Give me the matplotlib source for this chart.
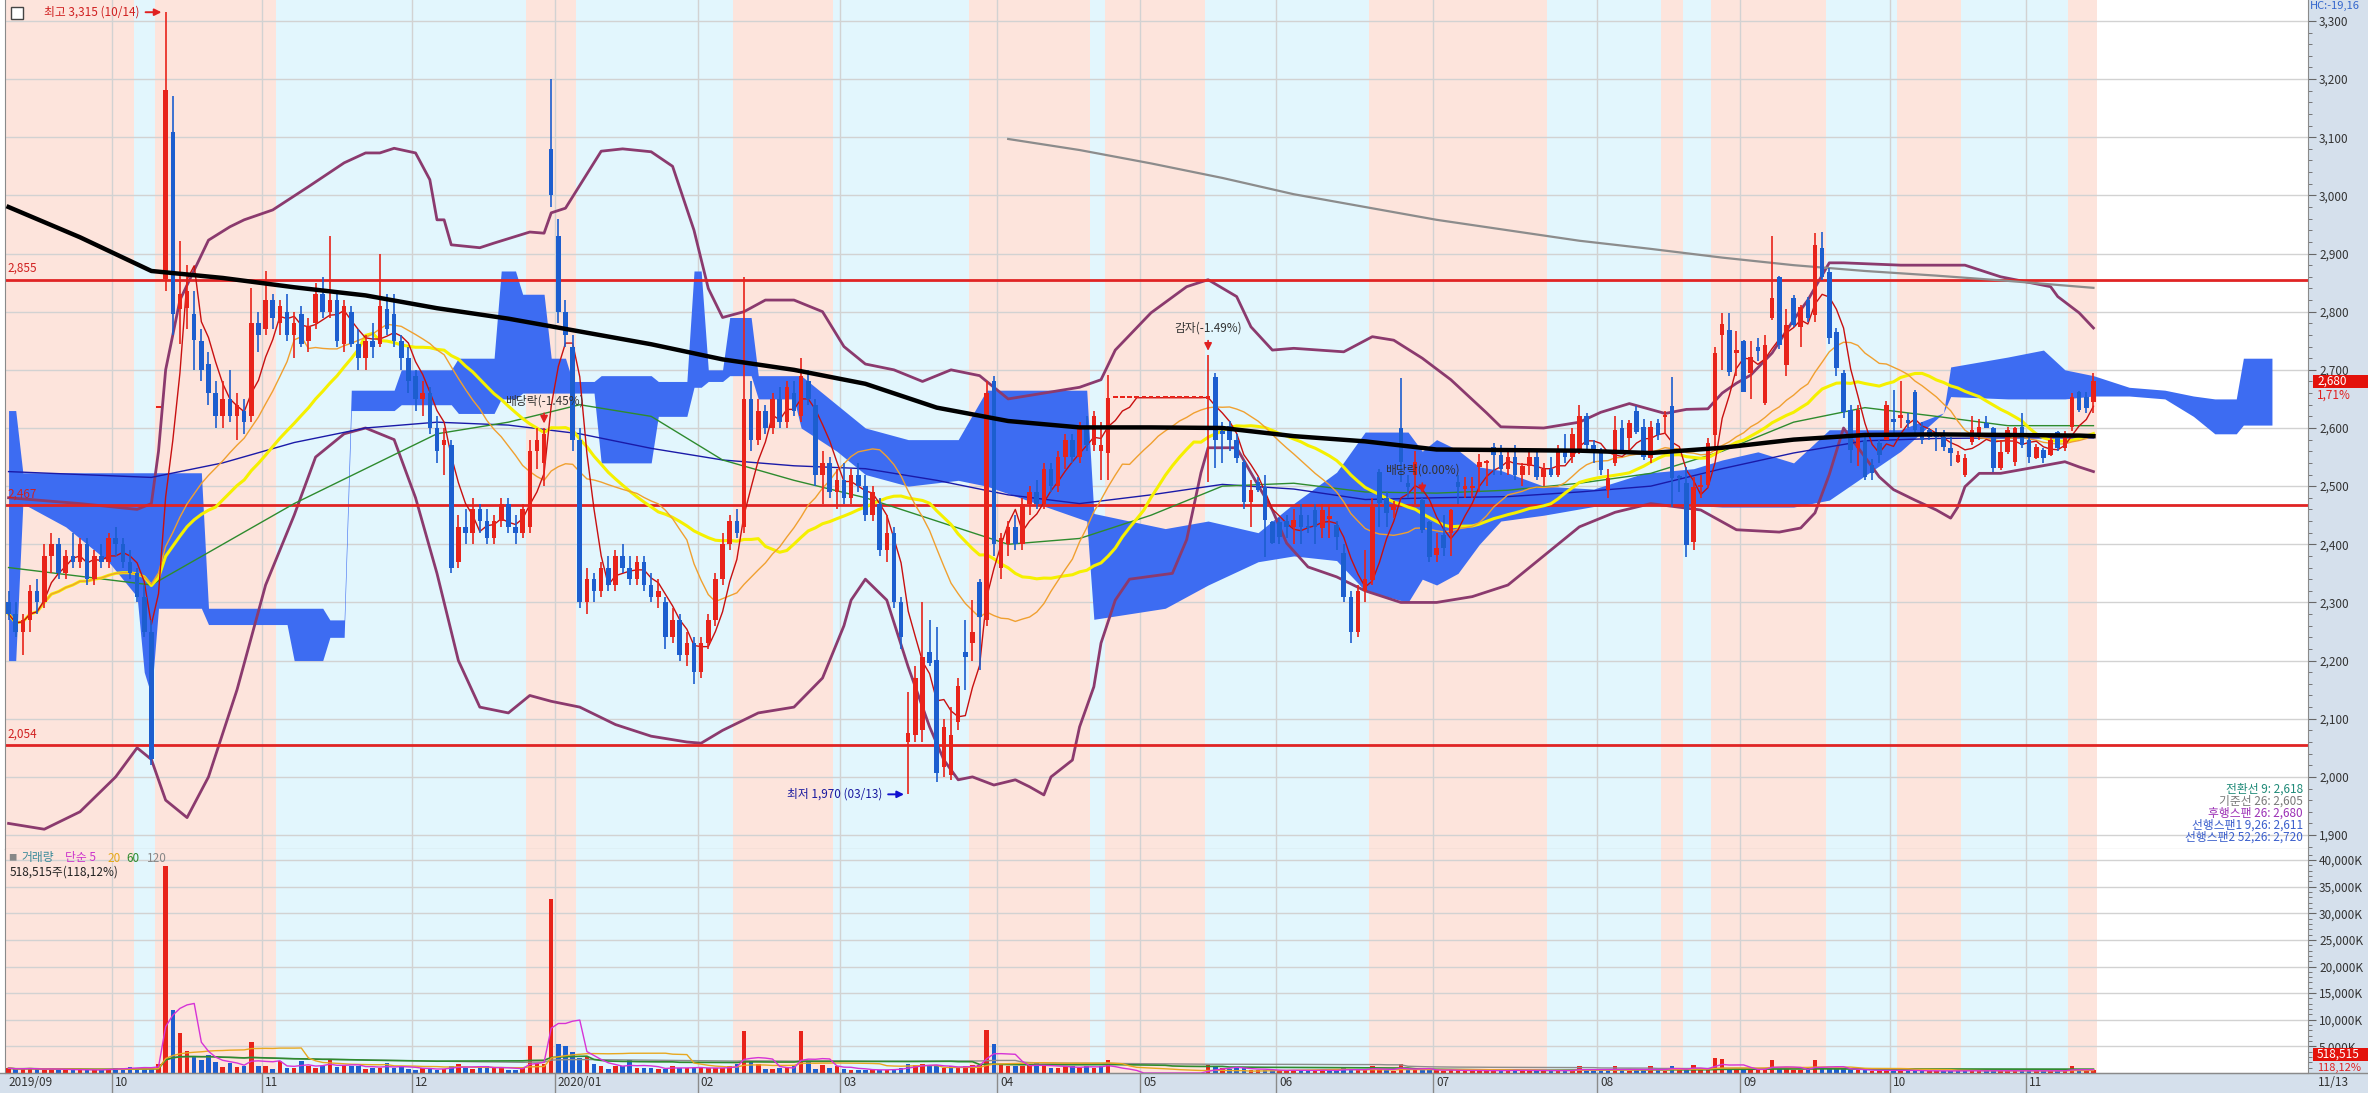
import numpy as np
import pandas as pd
import matplotlib
matplotlib.use('Agg')
import matplotlib.pyplot as plt
from matplotlib.patches import Rectangle
from matplotlib import transforms

plt.rcParams['font.family'] = ['Noto Sans CJK KR', 'DejaVu Sans']

# ---------------- data ----------------
holidays = ['2019-09-12', '2019-09-13', '2019-10-03', '2019-10-09', '2019-12-25', '2019-12-31',
            '2020-01-01', '2020-01-24', '2020-01-27', '2020-04-15', '2020-04-30', '2020-05-01',
            '2020-05-05', '2020-08-17', '2020-09-30', '2020-10-01', '2020-10-02', '2020-10-09']
dates = pd.bdate_range('2019-09-06', '2020-11-13', freq='C', holidays=holidays)

opens = [
 2300,2280,2250,2270,2320,2300,2380,2400,2350,2380,2370,2400,2340,2380,2370,
 2410,2400,2370,2350,2310,2250,2635,2856,3109,2805,2806,2796,2750,2710,2660,2620,2650,2620,2630,2620,2780,
 2770,2820,2780,2800,2760,2796,2750,2780,2830,2800,2820,2745,2800,2745,2720,2750,2745,2805,2796,2750,2720,
 2690,2650,2660,2600,2570,2570,2370,2430,2420,2460,2440,2410,2440,2470,2430,2420,2430,2560,2540,3080,
 2930,2800,2740,2580,2300,2340,2320,2360,2330,2380,2360,2340,2370,2330,2310,2300,2240,2270,2210,2230,
 2180,2230,2270,2340,2400,2440,2430,2650,2580,2630,2600,2650,2610,2660,2620,2680,2640,2520,2540,2490,
 2510,2480,2520,2500,2450,2470,2390,2420,2300,2060,2072,2080,2215,2201,2017,2003,2094,2215,2230,2335,2270,2680,
 2360,2400,2430,2400,2470,2490,2470,2530,2500,2550,2580,2550,2600,2570,2560,2557,2652,2652,2652,2652,
 2652,2652,2652,2652,2652,2652,2652,2652,2652,2650,2688,2595,2603,2580,2541,2473,2507,2499,2438,
 2438,2440,2430,2450,2430,2459,2428,2443,2434,2385,2310,2250,2320,2339,2524,2480,2459,2600,2505,2519,2476,2438,
 2382,2416,2420,2507,2495,2497,2533,2540,2567,2553,2530,2550,2520,2535,2550,2515,2530,2520,2560,2550,2560,2620,2570,
 2559,2493,2540,2600,2583,2630,2602,2549,2609,2619,2638,2516,2505,2404,2498,2502,2588,2760,2769,2729,
 2750,2695,2740,2643,2789,2859,2708,2823,2774,2820,2794,2910,2868,2765,2694,2631,2566,2580,2536,2574,2580,
 2616,2618,2614,2662,2602,2597,2590,2585,2566,2542,2519,2576,2585,2609,2600,2531,2559,2542,2602,
 2580,2549,2562,2554,2593,2566,2602,2662,2653,2645]
highs = [
 2320,2300,2280,2330,2340,2400,2420,2410,2390,2420,2410,2410,2390,2400,2420,
 2430,2410,2390,2360,2330,2270,2635,3315,3171,2921,2880,2836,2770,2730,2680,2680,2700,2660,2650,2840,2800,
 2870,2830,2820,2830,2800,2810,2790,2850,2860,2930,2830,2820,2810,2770,2760,2780,2900,2830,2830,2760,2740,
 2700,2680,2670,2620,2600,2580,2450,2460,2480,2470,2460,2450,2480,2480,2450,2470,2580,2600,2600,3200,
 2960,2820,2760,2600,2360,2350,2370,2380,2390,2400,2380,2380,2380,2350,2340,2310,2290,2280,2250,2240,
 2240,2280,2350,2420,2450,2460,2860,2680,2650,2640,2660,2670,2680,2680,2720,2700,2650,2560,2550,2530,
 2540,2530,2540,2520,2500,2480,2450,2430,2310,2146,2190,2300,2270,2258,2100,2120,2170,2270,2305,2340,2680,2690,
 2420,2440,2450,2480,2500,2510,2540,2540,2560,2590,2590,2610,2620,2630,2610,2691,2652,2652,2652,2652,
 2652,2652,2652,2652,2652,2652,2652,2652,2652,2725,2695,2610,2612,2590,2545,2511,2515,2519,2440,
 2445,2450,2460,2470,2450,2470,2470,2470,2440,2400,2320,2330,2390,2480,2530,2490,2475,2686,2520,2560,2480,2440,
 2420,2450,2460,2520,2515,2515,2555,2545,2575,2570,2560,2570,2540,2560,2560,2540,2550,2570,2590,2600,2640,2625,2580,
 2565,2530,2620,2613,2613,2637,2615,2612,2615,2630,2688,2520,2533,2515,2520,2582,2740,2797,2797,2766,
 2752,2750,2755,2760,2930,2862,2805,2828,2812,2825,2935,2937,2875,2772,2700,2640,2640,2585,2547,2580,2647,
 2666,2680,2625,2666,2610,2600,2600,2597,2585,2560,2555,2620,2615,2620,2602,2580,2602,2602,2625,
 2587,2573,2566,2585,2595,2595,2660,2663,2662,2695]
lows = [
 2270,2240,2210,2250,2280,2290,2350,2340,2340,2360,2360,2330,2330,2360,2360,
 2380,2360,2340,2300,2240,2020,2635,2836,2760,2745,2770,2700,2680,2640,2600,2600,2610,2580,2590,2610,2730,
 2760,2770,2760,2750,2720,2740,2730,2770,2790,2790,2740,2730,2740,2700,2700,2720,2740,2760,2740,2700,2660,
 2630,2620,2590,2540,2520,2350,2360,2400,2400,2420,2400,2400,2430,2420,2400,2410,2420,2530,2500,2980,
 2780,2740,2560,2290,2280,2300,2310,2320,2320,2350,2330,2330,2320,2300,2290,2220,2230,2200,2190,2160,
 2170,2220,2260,2330,2390,2410,2420,2560,2570,2590,2590,2600,2600,2620,2610,2640,2500,2470,2480,2460,
 2470,2470,2490,2440,2440,2380,2370,2290,2220,1970,2060,2060,2190,1991,2000,1995,2080,2150,2200,2183,2260,2380,
 2340,2380,2390,2390,2450,2460,2460,2490,2490,2530,2540,2540,2560,2560,2511,2511,2652,2652,2652,2652,
 2652,2652,2652,2652,2652,2652,2652,2652,2652,2507,2532,2540,2560,2540,2460,2430,2490,2378,2400,
 2400,2410,2400,2400,2420,2400,2410,2410,2390,2300,2230,2240,2300,2330,2430,2430,2445,2507,2480,2470,2420,2370,
 2370,2380,2380,2470,2480,2480,2490,2500,2520,2520,2520,2510,2500,2520,2510,2500,2515,2515,2540,2540,2555,2560,2540,
 2520,2480,2535,2555,2560,2590,2545,2540,2580,2590,2464,2490,2378,2390,2480,2497,2560,2700,2690,2690,
 2662,2650,2715,2640,2786,2735,2690,2773,2740,2783,2783,2855,2745,2690,2618,2540,2535,2510,2510,2540,2580,
 2590,2600,2600,2590,2573,2580,2560,2560,2535,2540,2515,2570,2580,2600,2525,2528,2555,2535,2565,
 2540,2547,2540,2552,2560,2560,2595,2627,2626,2626]
closes = [
 2280,2250,2270,2320,2300,2380,2400,2350,2380,2370,2400,2340,2380,2370,2410,
 2400,2370,2350,2310,2250,2030,2635,3181,2796,2831,2836,2751,2700,2660,2620,2650,2620,2640,2610,2780,2760,
 2820,2790,2810,2760,2780,2745,2775,2830,2800,2820,2750,2810,2745,2720,2750,2740,2810,2770,2750,2720,2680,
 2650,2660,2600,2560,2580,2360,2430,2420,2460,2440,2410,2440,2470,2430,2420,2460,2560,2580,2590,3000,
 2800,2760,2580,2300,2340,2320,2360,2330,2380,2360,2340,2370,2330,2310,2320,2240,2270,2210,2230,2180,
 2230,2270,2340,2400,2440,2420,2650,2580,2630,2600,2650,2610,2670,2630,2690,2650,2520,2540,2490,2510,
 2480,2520,2500,2450,2490,2390,2420,2300,2240,2075,2170,2206,2196,2007,2086,2072,2156,2206,2249,2275,2660,2400,
 2410,2430,2400,2470,2490,2470,2530,2500,2550,2580,2550,2600,2570,2620,2570,2652,2652,2652,2652,2652,
 2652,2652,2652,2652,2652,2652,2652,2652,2652,2655,2580,2590,2580,2548,2473,2493,2493,2442,2402,
 2413,2430,2442,2430,2428,2430,2459,2449,2413,2310,2250,2320,2340,2464,2471,2454,2468,2541,2499,2541,2424,2378,
 2394,2394,2459,2499,2500,2500,2541,2542,2553,2530,2550,2520,2535,2550,2515,2530,2520,2560,2550,2590,2620,2570,2559,
 2528,2514,2597,2557,2609,2593,2550,2602,2588,2622,2514,2514,2398,2499,2502,2574,2729,2779,2696,2734,
 2662,2722,2733,2743,2823,2743,2777,2777,2808,2789,2915,2860,2754,2703,2628,2562,2631,2516,2523,2553,2640,
 2610,2622,2608,2597,2580,2585,2585,2567,2557,2554,2549,2597,2602,2600,2531,2559,2597,2600,2571,
 2550,2568,2549,2580,2566,2588,2653,2631,2635,2680]
volumes = [  # thousand shares
 900,700,800,900,700,600,800,700,600,500,500,600,700,600,800,
 900,1000,1100,1000,1100,800,1750,38800,11800,7500,4100,3100,2400,3300,2000,1100,1900,1100,1250,5750,1400,
 1400,750,2200,900,1000,2200,1400,1000,1300,2400,1100,1400,1400,1400,750,1000,1000,1900,1000,1100,750,
 600,1000,800,600,800,1400,1750,1000,800,1000,1400,900,1000,600,600,950,5000,1750,1750,32600,
 5400,5000,3900,2800,3000,1750,1250,750,1250,1400,2500,940,940,870,700,800,1400,940,940,940,
 940,940,940,940,1250,1700,7900,2000,1600,800,800,940,940,1250,7900,2000,800,1560,940,1400,
 800,650,550,550,650,550,650,750,940,1750,1560,1750,1250,1250,940,1250,940,1400,1560,1560,8000,5500,
 1560,1250,1250,1250,1560,1900,1250,940,940,1250,1250,940,1400,940,1250,2400,0,0,0,0,
 0,0,0,0,0,0,0,0,0,1560,1250,940,700,940,940,600,500,600,500,
 500,400,600,500,400,500,600,500,400,900,700,600,500,1250,700,500,400,1750,600,500,700,600,
 500,400,600,500,400,500,400,450,500,400,500,600,450,400,500,450,500,400,450,500,1250,500,450,
 500,600,1250,500,450,500,600,1250,500,450,1300,600,700,1560,500,600,2800,2600,1000,600,
 600,500,700,1000,2500,800,700,600,600,700,2500,1000,900,800,700,600,500,500,400,500,600,
 500,400,400,500,400,350,350,400,400,400,450,400,350,400,500,400,350,400,400,
 400,450,350,400,450,400,1250,500,438.97,518.515]

# long moving averages every 10 sessions (plus last)
ma_sample_idx = list(range(0, 291, 10)) + [292]
ma60_line = [2360, 2345, 2330, 2400, 2470, 2530, 2590, 2610, 2640, 2620, 2545, 2510, 2480, 2440, 2400,
             2410, 2450, 2500, 2505, 2490, 2488, 2493, 2505, 2522, 2560, 2610, 2635, 2620, 2604, 2604, 2604]
ma120_line = [2525, 2520, 2515, 2540, 2575, 2600, 2610, 2605, 2590, 2565, 2545, 2535, 2530, 2510, 2485,
              2470, 2485, 2503, 2495, 2477, 2480, 2482, 2490, 2500, 2530, 2557, 2578, 2582, 2583, 2583, 2583]
ma240_line = [2980, 2928, 2870, 2858, 2842, 2828, 2806, 2788, 2766, 2744, 2718, 2700, 2676, 2635, 2612,
              2601, 2601, 2600, 2586, 2577, 2563, 2562, 2561, 2557, 2566, 2580, 2588, 2589, 2588, 2587, 2586]
ma_long_idx = list(range(140, 291, 10)) + [292]
ma_long_line = [3097, 3078, 3055, 3030, 3002, 2980, 2958, 2940, 2922, 2908, 2893, 2880, 2870, 2862, 2853, 2843, 2841]

bb_up_idx = [0, 10, 18, 20, 21, 22, 24, 28, 31, 33, 37, 42, 47, 50, 52, 54, 57, 59, 60, 61, 62, 66, 68, 73, 75,
             76, 78, 83, 86, 90, 93, 96, 98, 100, 103, 106, 110, 114, 117, 120, 124, 128, 132, 136, 140, 145,
             150, 153, 155, 160, 165, 168, 172, 174, 177, 180, 187, 191, 194, 198, 202, 207, 209, 215, 220,
             223, 227, 232, 235, 238, 240, 242, 244, 247, 250, 252, 255, 257, 265, 274, 279, 286, 287, 290, 292]
bb_up = [2480, 2470, 2460, 2470, 2560, 2700, 2820, 2923, 2946, 2958, 2975, 3015, 3056, 3073, 3073, 3081, 3073,
         3027, 2958, 2958, 2915, 2910, 2918, 2937, 2935, 2970, 2978, 3076, 3080, 3075, 3050, 2940, 2840, 2790,
         2800, 2820, 2820, 2800, 2740, 2710, 2700, 2680, 2700, 2690, 2650, 2660, 2670, 2683, 2734, 2798, 2843,
         2855, 2826, 2774, 2734, 2737, 2731, 2757, 2751, 2720, 2683, 2626, 2602, 2600, 2610, 2627, 2642, 2625,
         2632, 2633, 2660, 2677, 2691, 2729, 2786, 2820, 2884, 2884, 2880, 2880, 2860, 2843, 2826, 2798, 2772]
bb_lo_idx = [0, 5, 10, 15, 18, 20, 22, 25, 28, 32, 36, 40, 43, 47, 50, 54, 57, 60, 63, 66, 70, 73, 76, 80, 85,
             90, 95, 97, 100, 105, 110, 114, 117, 118, 120, 123, 126, 129, 131, 133, 135, 138, 141, 143, 145,
             146, 149, 150, 152, 153, 155, 157, 163, 165, 167, 168, 172, 174, 177, 179, 182, 186, 190, 195, 200,
             205, 210, 215, 220, 225, 230, 237, 242, 248, 251, 253, 255, 257, 260, 262, 264, 267, 270, 272, 273,
             274, 276, 279, 284, 288, 290, 292]
bb_lo = [1920, 1910, 1940, 2000, 2050, 2030, 1960, 1930, 2000, 2150, 2330, 2450, 2550, 2590, 2600, 2580, 2480,
         2350, 2200, 2120, 2110, 2140, 2130, 2120, 2090, 2070, 2060, 2058, 2080, 2110, 2120, 2170, 2260, 2304,
         2340, 2304, 2189, 2086, 2029, 1995, 2000, 1986, 1995, 1983, 1969, 2000, 2029, 2086, 2155, 2230, 2304,
         2340, 2350, 2408, 2523, 2566, 2566, 2523, 2459, 2402, 2361, 2344, 2320, 2300, 2300, 2310, 2330, 2380,
         2430, 2455, 2470, 2459, 2425, 2421, 2428, 2454, 2520, 2600, 2550, 2516, 2494, 2476, 2459, 2445, 2464,
         2499, 2522, 2522, 2533, 2542, 2533, 2525]

cloud_idx = [0, 1, 2, 8, 14, 18, 19, 20, 21, 27, 28, 39, 40, 44, 45, 47, 48, 54, 55, 62, 63, 68, 69, 71, 72,
             75, 76, 78, 79, 82, 83, 90, 91, 95, 96, 97, 98, 100, 101, 104, 105, 110, 111, 116, 120, 126, 133,
             137, 151, 152, 162, 168, 175, 180, 186, 190, 196, 198, 200, 203, 206, 209, 215, 222, 229, 236, 240,
             245, 250, 255, 265, 271, 272, 280, 285, 288, 292, 297, 302, 306, 309, 312, 313, 317]
cloud_top = [2630, 2630, 2523, 2523, 2523, 2523, 2523, 2523, 2523, 2523, 2290, 2290, 2290, 2290, 2270, 2270,
             2665, 2665, 2700, 2700, 2720, 2720, 2870, 2870, 2830, 2830, 2720, 2720, 2680, 2680, 2690, 2690,
             2680, 2680, 2870, 2870, 2700, 2700, 2790, 2790, 2690, 2690, 2690, 2640, 2600, 2580, 2580, 2665,
             2665, 2453, 2427, 2440, 2420, 2470, 2524, 2593, 2593, 2560, 2580, 2562, 2533, 2527, 2500, 2495,
             2522, 2530, 2545, 2559, 2540, 2597, 2597, 2626, 2705, 2722, 2734, 2700, 2690, 2670, 2665, 2655,
             2650, 2650, 2720, 2720]
cloud_bot = [2200, 2200, 2470, 2430, 2370, 2310, 2180, 2140, 2290, 2290, 2262, 2262, 2200, 2200, 2240, 2240,
             2630, 2630, 2640, 2640, 2625, 2625, 2650, 2650, 2660, 2660, 2660, 2660, 2660, 2660, 2540, 2540,
             2620, 2620, 2670, 2670, 2680, 2680, 2690, 2690, 2650, 2650, 2600, 2560, 2520, 2500, 2510, 2500,
             2440, 2271, 2290, 2330, 2370, 2380, 2372, 2320, 2300, 2340, 2330, 2350, 2400, 2440, 2450, 2465,
             2467, 2467, 2464, 2464, 2464, 2476, 2560, 2626, 2654, 2650, 2650, 2650, 2655, 2655, 2650, 2620,
             2590, 2590, 2605, 2605]

band_edges = [0, 18, 21, 38, 73, 80, 102, 116, 135, 152, 154, 168, 191, 216, 232, 235, 239, 255, 265, 274, 289, 293]
level_lines = [2855, 2467, 2054]
events = [('2019-12-27', '배당락(-1.45%)'), ('2020-05-18', '감자(-1.49%)'), ('2020-06-29', '배당락(0.00%)')]
ichimoku_legend = [('전환선 9: 2,618', '#1f8a78'), ('기준선 26: 2,605', '#7a7a7a'),
                   ('후행스팬 26: 2,680', '#9b30b5'), ('선행스팬1 9,26: 2,611', '#3b5fcc'),
                   ('선행스팬2 52,26: 2,720', '#3b5fcc')]

# ---------------- prep ----------------
n = len(closes)
dates = dates[:n]
x = np.arange(n)
o = np.array(opens, float); h = np.array(highs, float); l = np.array(lows, float); c = np.array(closes, float)
v = np.array(volumes, float)
UP, DN = '#e8231a', '#1c5ecf'
cs = pd.Series(c)
ma5 = cs.rolling(5, min_periods=1).mean()
ma20 = cs.rolling(20, min_periods=1).mean()
ma30 = cs.rolling(30, min_periods=1).mean()

W, H = 2368, 1093
fx = lambda px: px / W
fy = lambda py: 1 - py / H

fig = plt.figure(figsize=(W / 100, H / 100), dpi=100)
fig.patches.append(Rectangle((fx(2308), 0), 1 - fx(2308), 1, transform=fig.transFigure,
                             facecolor='#d5e0ec', edgecolor='none', zorder=-5))
fig.patches.append(Rectangle((0, 0), 1, 20 / H, transform=fig.transFigure,
                             facecolor='#d5e0ec', edgecolor='none', zorder=-5))

ax = fig.add_axes([fx(5), fy(849), fx(2308) - fx(5), 849 / H])
axv = fig.add_axes([fx(5), fy(1073), fx(2308) - fx(5), (1073 - 849) / H], sharex=ax)
XMAX = (2308 - 5) / 7.14 - 0.5
ax.set_xlim(-0.5, XMAX)
ax.set_ylim(1876, 3336)
axv.set_ylim(0, 42066)

month_idx = [i for i in range(n) if i == 0 or dates[i].month != dates[i - 1].month]

for a in (ax, axv):
    a.set_facecolor('white')
    for k, (s, e) in enumerate(zip(band_edges[:-1], band_edges[1:])):
        a.axvspan(s - 0.5, e - 0.5, color='#fde4dc' if k % 2 == 0 else '#e2f6fd', lw=0, zorder=0)
    for m in month_idx[1:]:
        a.axvline(m - 0.5, color='#d2d2d2', lw=1, zorder=0.5)
    a.spines['top'].set_visible(False)
    for sp in ('left', 'right', 'bottom'):
        a.spines[sp].set_color('#8a8a8a')
    a.yaxis.tick_right()
    a.tick_params(axis='y', which='major', direction='out', length=6, color='#666666',
                  labelsize=8.5, labelcolor='#333333', pad=2)
    a.tick_params(axis='y', which='minor', direction='out', length=3, color='#666666')
    a.tick_params(axis='x', bottom=False, labelbottom=False)

for p in range(1900, 3301, 100):
    ax.axhline(p, color='#d2d2d2', lw=1, zorder=0.5)
ax.set_yticks(range(1900, 3301, 100))
ax.set_yticks(range(1880, 3320, 20), minor=True)
ax.set_yticklabels([f'{p:,}' for p in range(1900, 3301, 100)])

# Ichimoku cloud
ax.fill_between(cloud_idx, cloud_bot, cloud_top, color='#3d6cf2', lw=0, zorder=1.5)

# Bollinger
ax.plot(bb_up_idx, bb_up, color='#8b3a6e', lw=2, zorder=2)
ax.plot(bb_lo_idx, bb_lo, color='#8b3a6e', lw=2, zorder=2)

# level lines
for lv in level_lines:
    ax.axhline(lv, color='#e02424', lw=2, zorder=2.2)
    ax.text(-0.2, lv + 8, f'{lv:,}', color='#d02020', fontsize=8.5, ha='left', va='bottom', zorder=6)

# moving averages
ax.plot(ma_long_idx, ma_long_line, color='#8c8c8c', lw=1.6, zorder=2.5)
ax.plot(ma_sample_idx, ma120_line, color='#1a1aa8', lw=1, zorder=2.6)
ax.plot(ma_sample_idx, ma60_line, color='#2e8b2e', lw=1, zorder=2.6)
ax.plot(x, ma30, color='#f5f000', lw=2.2, zorder=2.7)
ax.plot(x, ma20, color='#f0a030', lw=1, zorder=2.8)
ax.plot(x, ma5, color='#c81010', lw=1, zorder=2.9)
ax.plot(ma_sample_idx, ma240_line, color='black', lw=3.2, zorder=3.5)

# candles
up = c >= o
col = np.where(up, UP, DN)
ax.vlines(x, l, h, colors=col, lw=1.2, zorder=3)
body_lo = np.minimum(o, c)
body_h = np.maximum(np.abs(c - o), 3)
ax.bar(x, body_h, bottom=body_lo, width=0.64, color=col, lw=0, zorder=3.1)

# high / low annotations
hi = int(np.argmax(h)); lo = int(np.argmin(l))
ax.annotate('', xy=(hi - 0.2, h[hi]), xytext=(hi - 3.2, h[hi]),
            arrowprops=dict(arrowstyle='-|>', color='#e02020', lw=1.4, mutation_scale=10), zorder=6)
ax.text(hi - 3.6, h[hi], f'최고 {h[hi]:,.0f} ({dates[hi]:%m/%d})', color='#d02020', fontsize=8.5,
        ha='right', va='center', zorder=6)
ax.annotate('', xy=(lo - 0.2, l[lo]), xytext=(lo - 3.2, l[lo]),
            arrowprops=dict(arrowstyle='-|>', color='#1010d0', lw=1.4, mutation_scale=10), zorder=6)
ax.text(lo - 3.6, l[lo], f'최저 {l[lo]:,.0f} ({dates[lo]:%m/%d})', color='#1a1aa0', fontsize=8.5,
        ha='right', va='center', zorder=6)

# event markers
for d, label in events:
    i = int(np.searchsorted(dates, pd.Timestamp(d)))
    ax.annotate('', xy=(i, h[i] + 3), xytext=(i, h[i] + 30),
                arrowprops=dict(arrowstyle='-|>', color='#e02020', lw=1.2, mutation_scale=11), zorder=6)
    ax.text(i, h[i] + 36, label, color='#333333', fontsize=8.5, ha='center', va='bottom', zorder=6)

# ichimoku legend
for k, (t, colr) in enumerate(ichimoku_legend):
    fig.text(fx(2303), fy(789 + 12 * k), t, color=colr, fontsize=8.5, ha='right', va='center')

# price tag
last, prev = c[-1], c[-2]
fig.patches.append(Rectangle((fx(2313), fy(388)), fx(2368) - fx(2313), 13 / H, transform=fig.transFigure,
                             facecolor='#e3120b', edgecolor='none', zorder=5))
fig.text(fx(2317), fy(381.5), f'{last:,.0f}', color='white', fontsize=8.5, ha='left', va='center', zorder=6)
pct = (last / prev - 1) * 100
fig.text(fx(2317), fy(395), f'{pct:.2f}%'.replace('.', ','), color='#e02020', fontsize=8.5,
         ha='left', va='center')
fig.text(fx(2310), fy(6), 'HC:-19,16', color='#3366cc', fontsize=8, ha='left', va='center')

# volume
vcol = [UP] + [UP if c[i] >= c[i - 1] else DN for i in range(1, n)]
axv.bar(x, v, width=0.64, color=vcol, lw=0, zorder=3)
vs = pd.Series(v)
axv.plot(x, vs.rolling(120, min_periods=1).mean(), color='#8c8c8c', lw=1, zorder=3.5)
axv.plot(x, vs.rolling(60, min_periods=1).mean(), color='#2e8b2e', lw=1.2, zorder=3.6)
axv.plot(x, vs.rolling(20, min_periods=1).mean(), color='#e8a820', lw=1, zorder=3.7)
axv.plot(x, vs.rolling(5, min_periods=1).mean(), color='#d633d6', lw=1, zorder=3.8)
for q in range(5000, 40001, 5000):
    axv.axhline(q, color='#d2d2d2', lw=1, zorder=0.5)
axv.set_yticks(range(5000, 40001, 5000))
axv.set_yticks(range(1000, 42000, 1000), minor=True)
axv.set_yticklabels([f'{q:,}K' for q in range(5000, 40001, 5000)])

fig.text(fx(8), fy(858), '■', color='#888888', fontsize=6, ha='left', va='center')
vleg = [('거래량', '#3a8a9a', 21), ('단순 5', '#cc33cc', 65), ('20', '#e6a817', 107),
        ('60', '#2e8b2e', 126), ('120', '#888888', 147)]
for t, colr, px in vleg:
    fig.text(fx(px), fy(858), t, color=colr, fontsize=8.5, ha='left', va='center')
fig.text(fx(10), fy(872), f'{v[-1] * 1000:,.0f}주({v[-1] / v[-2] * 100:.2f}%)'.replace('.', ','),
         color='#222222', fontsize=8.5, ha='left', va='center')

fig.patches.append(Rectangle((fx(2313), fy(1061)), fx(2368) - fx(2313), 13 / H, transform=fig.transFigure,
                             facecolor='#e3120b', edgecolor='none', zorder=5))
fig.text(fx(2317), fy(1054.5), f'{v[-1] * 1000:,.0f}', color='white', fontsize=8.5, ha='left',
         va='center', zorder=6)
fig.text(fx(2317), fy(1067.5), f'{v[-1] / v[-2] * 100:.2f}%'.replace('.', ','), color='#e02020',
         fontsize=8, ha='left', va='center')

# date strip
trans = transforms.blended_transform_factory(axv.transData, fig.transFigure)
lab_trans = transforms.offset_copy(trans, fig=fig, x=3, y=0, units='dots')
for k, m in enumerate(month_idx):
    d = dates[m]
    lab = f'{d:%Y/%m}' if (k == 0 or d.month == 1) else f'{d:%m}'
    if k > 0:
        axv.plot([m - 0.5, m - 0.5], [0, 20 / H], transform=trans, color='#8a8a8a', lw=1, clip_on=False)
    axv.text(max(m - 0.5, -0.5), fy(1083), lab, transform=lab_trans, color='#333333', fontsize=8.5,
             ha='left', va='center', clip_on=False)
fig.text(fx(2318), fy(1083), f'{dates[-1]:%m/%d}', color='#333333', fontsize=8.5, ha='left', va='center')
fig.add_artist(plt.Line2D([0, 1], [20 / H, 20 / H], transform=fig.transFigure, color='#8a8a8a', lw=1))

# small icon top-left
fig.patches.append(Rectangle((fx(11), fy(19)), 12 / W, 12 / H, transform=fig.transFigure,
                             facecolor='white', edgecolor='#444444', lw=1, zorder=6))

fig.savefig('out.png', dpi=100)
